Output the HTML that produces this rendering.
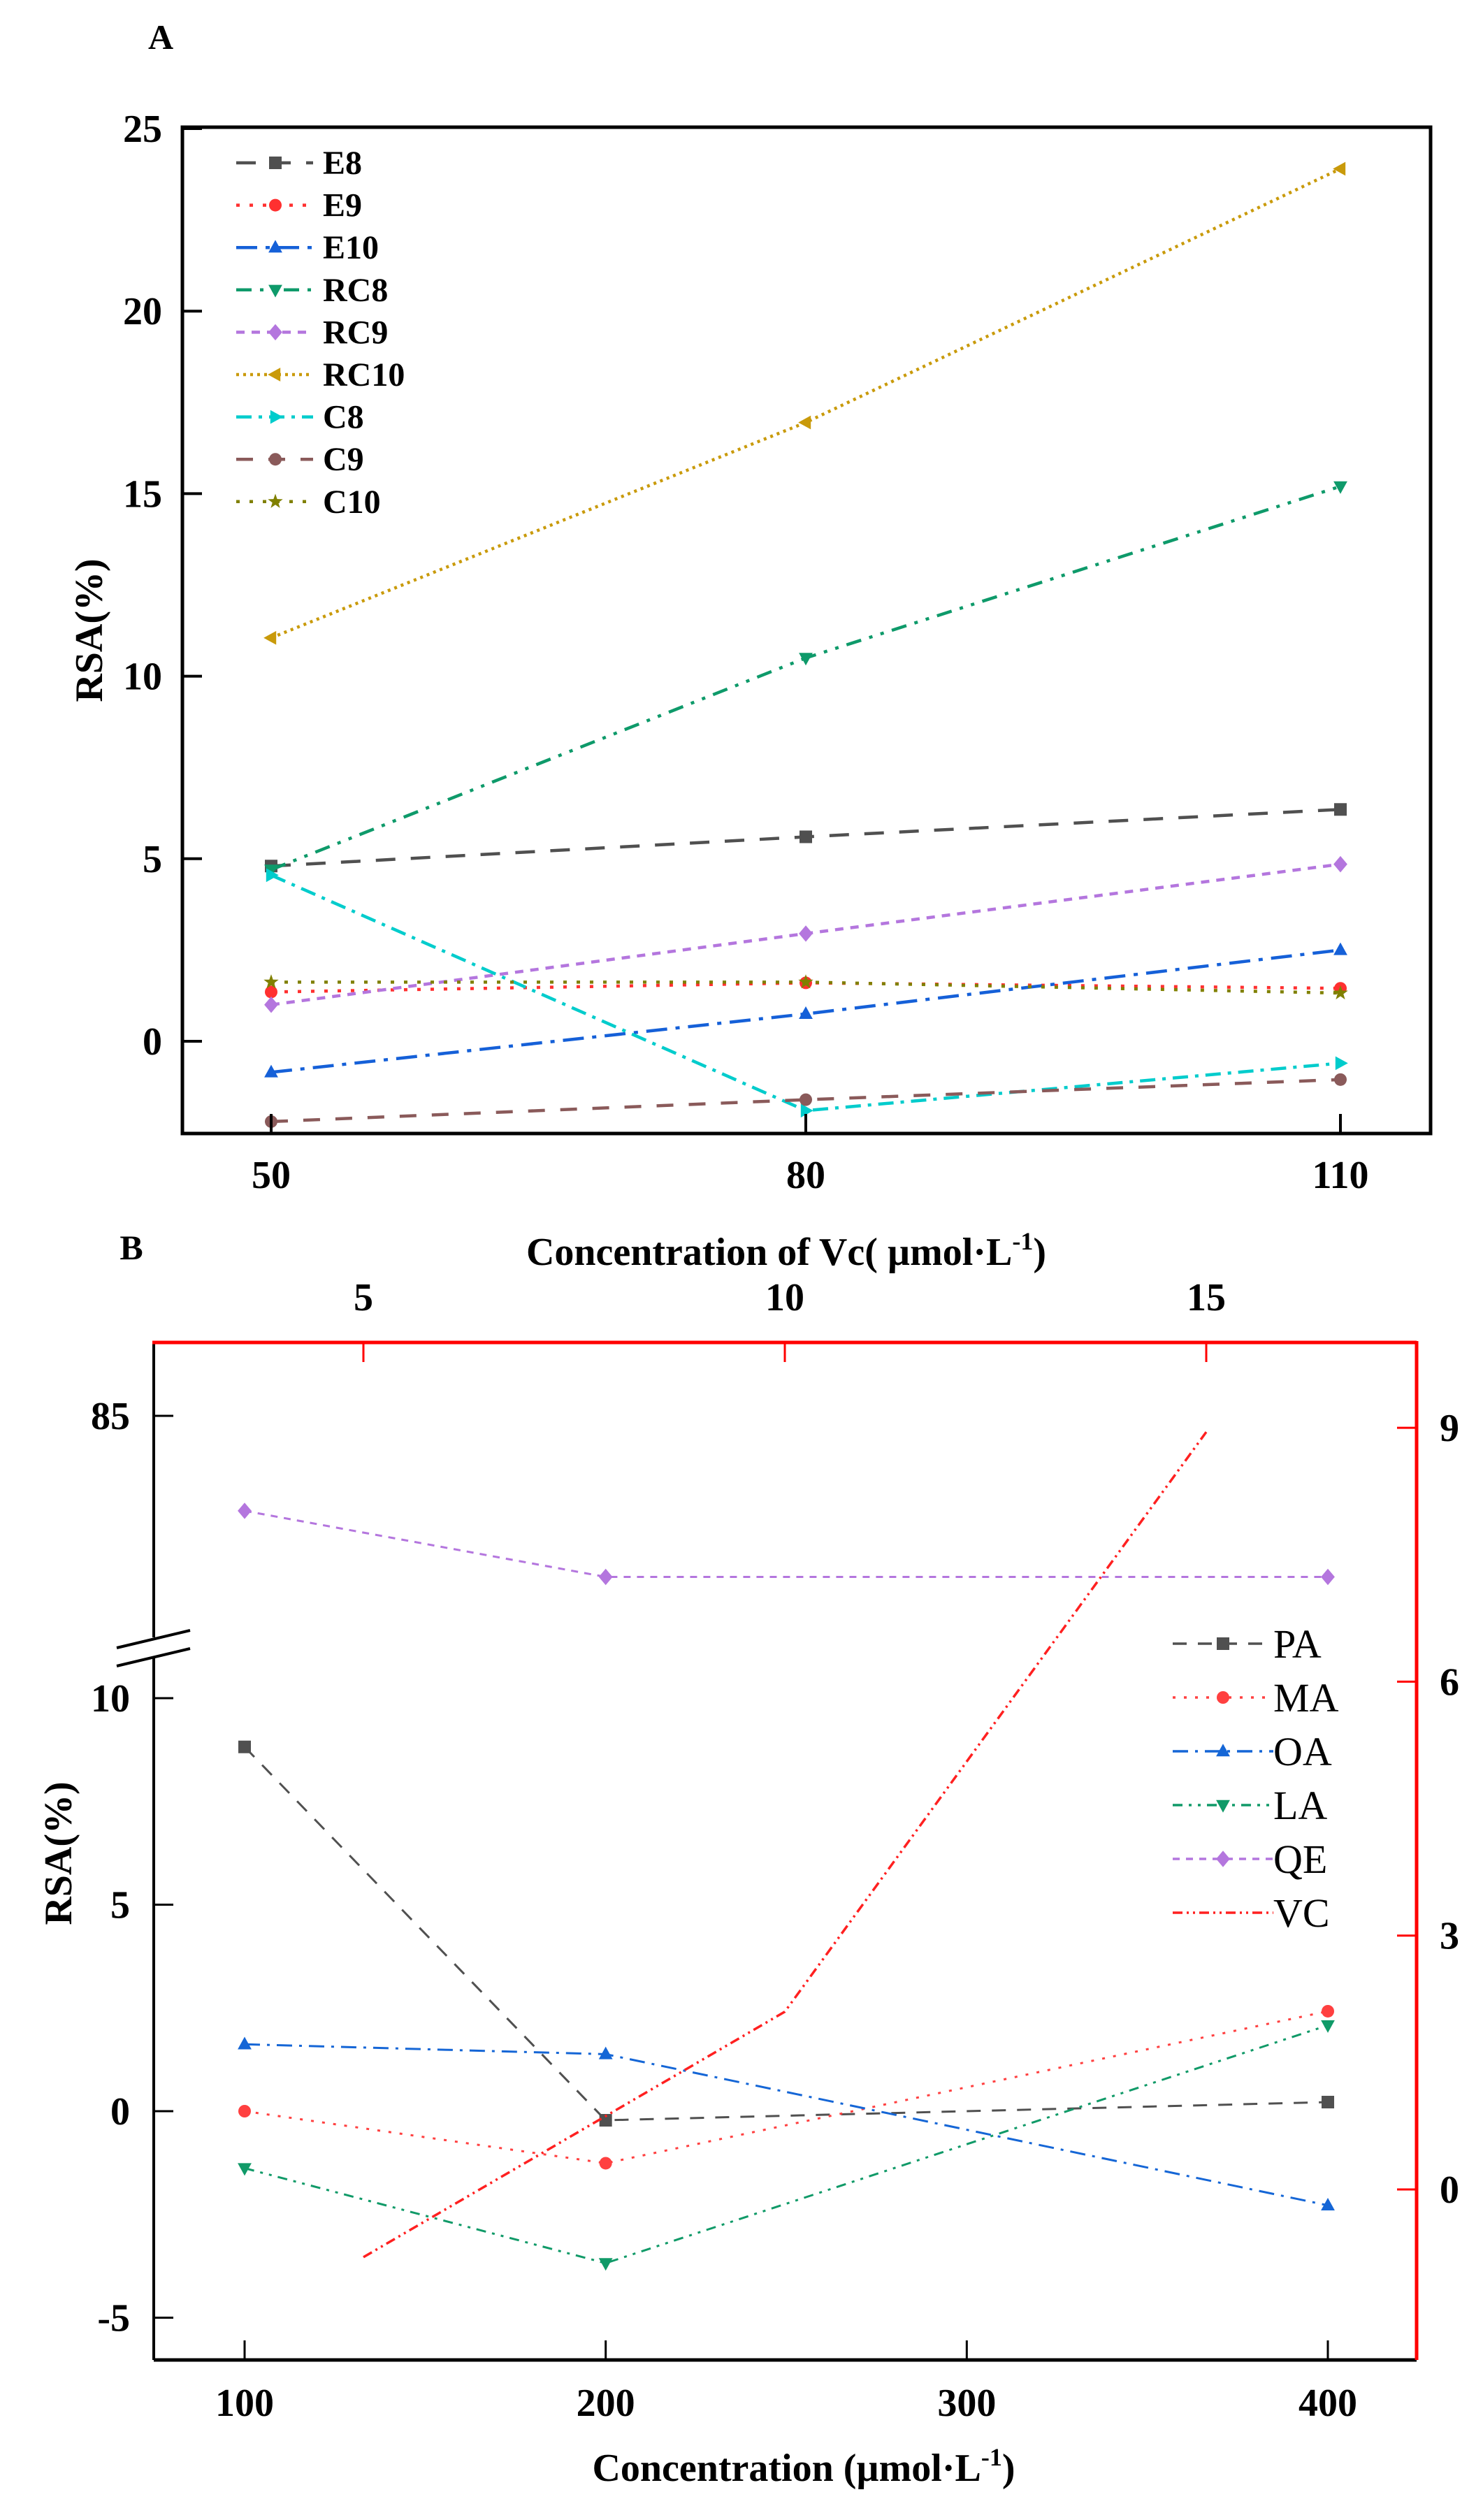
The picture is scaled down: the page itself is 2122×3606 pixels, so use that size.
<!DOCTYPE html>
<html><head><meta charset="utf-8"><style>
html,body{margin:0;padding:0;background:#fff}
svg{display:block}
text{font-family:"Liberation Serif",serif}
</style></head><body>
<svg id="fig" width="2122" height="3606" viewBox="0 0 2122 3606" xmlns="http://www.w3.org/2000/svg">
<rect x="0" y="0" width="2122" height="3606" fill="#fff"/>
<g id="A"></g>
<g id="B"></g>
</svg>
<script>
// ---- Chart A data ----
const aCats = [50, 80, 110];
const aNames = ["E8","E9","E10","RC8","RC9","RC10","C8","C9","C10"];
const aE8 = [4.8, 5.6, 6.35];
const aE9 = [1.35, 1.6, 1.45];
const aE10 = [-0.85, 0.75, 2.5];
const aRC8 = [4.7, 10.5, 15.2];
const aRC9 = [1.0, 2.95, 4.85];
const aRC10 = [11.05, 16.95, 23.9];
const aC8 = [4.55, -1.9, -0.6];
const aC9 = [-2.2, -1.6, -1.05];
const aC10 = [1.62, 1.62, 1.32];
const aYTicks = [0, 5, 10, 15, 20, 25];
const aXTicks = [50, 80, 110];
// ---- Chart B data ----
const bCats = [100, 200, 400];
const bPA = [8.82, -0.22, 0.22];
const bMA = [0, -1.26, 2.42];
const bOA = [1.62, 1.38, -2.28];
const bLA = [-1.38, -3.68, 2.08];
const bQE = [82.7, 81.1, 81.1];
const bVCx = [5, 10, 15];
const bVCy = [-0.8, 2.1, 8.95];
const bXTicks = [100, 200, 300, 400];
const bLowTicks = [-5, 0, 5, 10];
const bHighTicks = [85];
const bTopTicks = [5, 10, 15];
const bRightTicks = [0, 3, 6, 9];

const NS = "http://www.w3.org/2000/svg";
function mk(tag, attrs, parent){const e=document.createElementNS(NS,tag);for(const k in attrs)e.setAttribute(k,attrs[k]);parent.appendChild(e);return e;}
function txt(parent, s, x, y, size, weight, anchor){const t=mk("text",{x:x,y:y,"font-size":size,"font-weight":weight,"text-anchor":anchor,fill:"#000"},parent);t.textContent=s;return t;}

function marker(g, type, x, y, r, color){
  let e;
  if(type==="square") e=mk("rect",{x:x-r,y:y-r,width:2*r,height:2*r,fill:color},g);
  else if(type==="circle") e=mk("circle",{cx:x,cy:y,r:r,fill:color},g);
  else {
    let p;
    if(type==="up") p=[[x,y-r*1.2],[x+r*1.1,y+r*0.8],[x-r*1.1,y+r*0.8]];
    else if(type==="down") p=[[x,y+r*1.2],[x+r*1.1,y-r*0.8],[x-r*1.1,y-r*0.8]];
    else if(type==="left") p=[[x-r*1.2,y],[x+r*0.8,y-r*1.1],[x+r*0.8,y+r*1.1]];
    else if(type==="right") p=[[x+r*1.2,y],[x-r*0.8,y-r*1.1],[x-r*0.8,y+r*1.1]];
    else if(type==="diamond") p=[[x,y-r*1.3],[x+r*1.1,y],[x,y+r*1.3],[x-r*1.1,y]];
    else if(type==="star"){p=[];for(let i=0;i<10;i++){const a=-Math.PI/2+i*Math.PI/5;const rr=i%2?r*0.5:r*1.25;p.push([x+rr*Math.cos(a),y+rr*Math.sin(a)]);}}
    e=mk("polygon",{points:p.map(q=>q.join(",")).join(" "),fill:color},g);
  }
  
  
}

// ================= Chart A =================
(function(){
  const g=document.getElementById("A");
  const L=261,R=2047,T=182,Bm=1622;
  const X=v=>388+(v-50)*25.5;
  const Y=v=>1490-v*52.24;
  const series=[
    {n:"E8",d:aE8,c:"#505050",dash:"28,22",m:"square"},
    {n:"E9",d:aE9,c:"#ff3030",dash:"5,14",m:"circle"},
    {n:"E10",d:aE10,c:"#1560d8",dash:"30,12,6,12",m:"up"},
    {n:"RC8",d:aRC8,c:"#0e9a6a",dash:"22,12,5,12,5,12",m:"down"},
    {n:"RC9",d:aRC9,c:"#b476de",dash:"12,10",m:"diamond"},
    {n:"RC10",d:aRC10,c:"#c99a0a",dash:"4,6",m:"left"},
    {n:"C8",d:aC8,c:"#00cccc",dash:"22,10,5,10",m:"right"},
    {n:"C9",d:aC9,c:"#8a5a5a",dash:"24,22",m:"circle"},
    {n:"C10",d:aC10,c:"#808000",dash:"5,14",m:"star"}
  ];
  const clip=mk("clipPath",{id:"clipA"},g);mk("rect",{x:L,y:T,width:R-L,height:Bm-T},clip);
  const plot=mk("g",{"clip-path":"url(#clipA)"},g);
  
  
  series.forEach(s=>{
    const sg=mk("g",{},plot);
    
    
    const pts=aCats.map((c,i)=>X(c)+","+Y(s.d[i])).join(" ");
    mk("polyline",{points:pts,fill:"none",stroke:s.c,"stroke-width":4.5,"stroke-dasharray":s.dash},sg);
    aCats.forEach((c,i)=>marker(sg,s.m,X(c),Y(s.d[i]),9,s.c));
  });
  // frame
  const fr=mk("rect",{x:L,y:T,width:R-L,height:Bm-T,fill:"none",stroke:"#000","stroke-width":5},g);
  
  
  aYTicks.forEach(v=>{
    mk("line",{x1:L,x2:L+28,y1:Y(v),y2:Y(v),stroke:"#000","stroke-width":4},g);
    const t=txt(g,String(v),232,Y(v)+19,56,"bold","end");
    
    
  });
  aXTicks.forEach(v=>{
    mk("line",{x1:X(v),x2:X(v),y1:Bm,y2:Bm-28,stroke:"#000","stroke-width":4},g);
    const t=txt(g,String(v),X(v),1700,56,"bold","middle");
    
    
  });
  const yt=txt(g,"RSA(%)",0,0,56,"bold","middle");
  yt.setAttribute("transform","translate(146,902) rotate(-90)");
  
  
  const pl=txt(g,"A",230,70,50,"bold","middle");
  
  
  // legend
  series.forEach((s,i)=>{
    const y=233+i*60.6;
    const lg=mk("g",{},g);
    
    
    mk("line",{x1:338,x2:448,y1:y,y2:y,stroke:s.c,"stroke-width":4.5,"stroke-dasharray":s.dash},lg);
    marker(lg,s.m,394,y,9,s.c);
    txt(lg,s.n,462,y+16,48,"bold","start");
  });
})();

// ================= Chart B =================
(function(){
  const g=document.getElementById("B");
  const L=220,R=2027,T=1921,Bm=3377;
  const X=v=>350+(v-100)*5.1667;
  const XT=v=>520+(v-5)*120.6;
  const YL=v=>3021-v*59.1;
  const YH=v=>2026+(85-v)*59.1;
  const YR=v=>3133-v*121.1;
  const series=[
    {n:"PA",d:bPA,c:"#505050",dash:"20,16",m:"square",y:YL},
    {n:"MA",d:bMA,c:"#ff4040",dash:"4,12",m:"circle",y:YL},
    {n:"OA",d:bOA,c:"#1566d6",dash:"22,10,4,10",m:"up",y:YL},
    {n:"LA",d:bLA,c:"#109a68",dash:"14,9,4,9,4,9",m:"down",y:YL},
    {n:"QE",d:bQE,c:"#b476de",dash:"10,9",m:"diamond",y:YH}
  ];
  series.forEach(s=>{
    const sg=mk("g",{},g);
    
    
    const pts=bCats.map((c,i)=>X(c)+","+s.y(s.d[i])).join(" ");
    mk("polyline",{points:pts,fill:"none",stroke:s.c,"stroke-width":3,"stroke-dasharray":s.dash},sg);
    bCats.forEach((c,i)=>marker(sg,s.m,X(c),s.y(s.d[i]),9,s.c));
  });
  const vg=mk("g",{},g);
  
  
  mk("polyline",{points:bVCx.map((c,i)=>XT(c)+","+YR(bVCy[i])).join(" "),fill:"none",stroke:"#ff2020","stroke-width":3.5,"stroke-dasharray":"14,6,3,6,3,6"},vg);
  // axes
  const ax=mk("g",{},g);
  
  
  mk("line",{x1:L,x2:R,y1:Bm,y2:Bm,stroke:"#000","stroke-width":5},ax);
  mk("line",{x1:L,x2:L,y1:T,y2:2343,stroke:"#000","stroke-width":4},ax);
  mk("line",{x1:L,x2:L,y1:2372,y2:Bm,stroke:"#000","stroke-width":4},ax);
  mk("line",{x1:167,x2:272,y1:2358,y2:2333,stroke:"#000","stroke-width":4},ax);
  mk("line",{x1:167,x2:272,y1:2384,y2:2359,stroke:"#000","stroke-width":4},ax);
  mk("line",{x1:L-2,x2:R,y1:T,y2:T,stroke:"#ff0000","stroke-width":5},ax);
  mk("line",{x1:R,x2:R,y1:T-2,y2:Bm,stroke:"#ff0000","stroke-width":5},ax);
  bXTicks.forEach(v=>{
    mk("line",{x1:X(v),x2:X(v),y1:Bm,y2:Bm-28,stroke:"#000","stroke-width":3},ax);
    const t=txt(g,String(v),X(v),3457,56,"bold","middle");
    
    
  });
  bLowTicks.forEach(v=>{
    mk("line",{x1:L,x2:L+28,y1:YL(v),y2:YL(v),stroke:"#000","stroke-width":3},ax);
    const t=txt(g,String(v),186,YL(v)+19,56,"bold","end");
    
    
  });
  bHighTicks.forEach(v=>{
    mk("line",{x1:L,x2:L+28,y1:YH(v),y2:YH(v),stroke:"#000","stroke-width":3},ax);
    const t=txt(g,String(v),186,YH(v)+19,56,"bold","end");
    
    
  });
  bTopTicks.forEach(v=>{
    mk("line",{x1:XT(v),x2:XT(v),y1:T,y2:T+28,stroke:"#ff0000","stroke-width":3},ax);
    const t=txt(g,String(v),XT(v),1875,56,"bold","middle");
    
    
  });
  bRightTicks.forEach(v=>{
    mk("line",{x1:R,x2:R-28,y1:YR(v),y2:YR(v),stroke:"#ff0000","stroke-width":3},ax);
    const t=txt(g,String(v),2060,YR(v)+19,56,"bold","start");
    
    
  });
  const tt=txt(g,"",1125,1810,56,"bold","middle");
  tt.innerHTML='Concentration of Vc( µmol·L<tspan dy="-22" font-size="36">-1</tspan><tspan dy="22">)</tspan>';
  
  
  const bt=txt(g,"",1150,3550,56,"bold","middle");
  bt.innerHTML='Concentration (µmol·L<tspan dy="-22" font-size="36">-1</tspan><tspan dy="22">)</tspan>';
  
  
  const yt=txt(g,"RSA(%)",0,0,56,"bold","middle");
  yt.setAttribute("transform","translate(102,2652) rotate(-90)");
  
  
  const pl=txt(g,"B",188,1802,50,"bold","middle");
  
  
  const leg=[...series,{n:"VC",c:"#ff2020",dash:"14,6,3,6,3,6",m:null}];
  leg.forEach((s,i)=>{
    const y=2352+i*77;
    const lg=mk("g",{},g);
    
    
    mk("line",{x1:1678,x2:1822,y1:y,y2:y,stroke:s.c,"stroke-width":3.5,"stroke-dasharray":s.dash},lg);
    if(s.m) marker(lg,s.m,1750,y,9,s.c);
    txt(lg,s.n,1822,y+20,58,"normal","start");
  });
})();
</script>
</body></html>
